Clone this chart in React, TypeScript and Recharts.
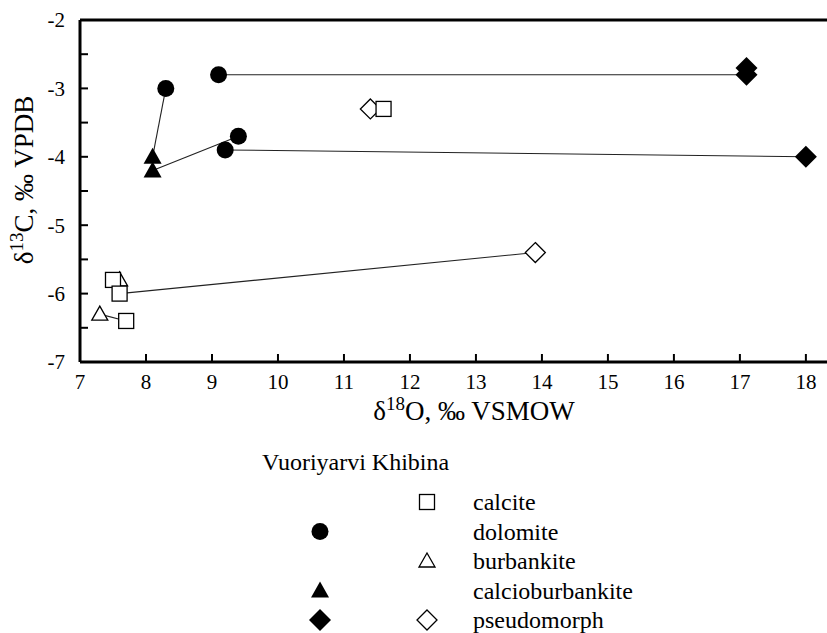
import React from 'react';
import { ScatterChart, Scatter, XAxis, YAxis, ReferenceLine } from 'recharts';

const FONT = "'Times New Roman', Times, 'Liberation Serif', Tinos, 'DejaVu Serif', 'Noto Serif', serif";

// δ18O (x), δ13C (y) values
const calcite = [
  { x: 11.6, y: -3.3 },
  { x: 7.5, y: -5.8 },
  { x: 7.6, y: -6.0 },
  { x: 7.7, y: -6.4 },
];
const dolomite = [
  { x: 8.3, y: -3.0 },
  { x: 9.1, y: -2.8 },
  { x: 9.4, y: -3.7 },
  { x: 9.2, y: -3.9 },
];
const burbankite = [
  { x: 7.6, y: -5.8 },
  { x: 7.3, y: -6.3 },
];
const calcioburbankite = [
  { x: 8.1, y: -4.0 },
  { x: 8.1, y: -4.2 },
];
const pseudomorphVuoriyarvi = [
  { x: 17.1, y: -2.7 },
  { x: 17.1, y: -2.8 },
  { x: 18.0, y: -4.0 },
];
const pseudomorphKhibina = [
  { x: 11.4, y: -3.3 },
  { x: 13.9, y: -5.4 },
];

// pairs joined by thin tie lines
const tieLines = [
  [dolomite[0], calcioburbankite[0]],
  [calcioburbankite[1], dolomite[2]],
  [dolomite[3], pseudomorphVuoriyarvi[2]],
  [dolomite[1], pseudomorphVuoriyarvi[1]],
  [calcite[2], pseudomorphKhibina[1]],
  [burbankite[1], calcite[3]],
];

const xTicks = [7, 8, 9, 10, 11, 12, 13, 14, 15, 16, 17, 18];
const yTicks = [-7, -6.5, -6, -5.5, -5, -4.5, -4, -3.5, -3, -2.5, -2];

const legendRows = [
  { label: 'calcite', vuoriyarvi: null, khibina: 'openSquare' },
  { label: 'dolomite', vuoriyarvi: 'filledCircle', khibina: null },
  { label: 'burbankite', vuoriyarvi: null, khibina: 'openTriangle' },
  { label: 'calcioburbankite', vuoriyarvi: 'filledTriangle', khibina: null },
  { label: 'pseudomorph', vuoriyarvi: 'filledDiamond', khibina: 'openDiamond' },
];

type Kind = 'openSquare' | 'filledCircle' | 'openTriangle' | 'filledTriangle' | 'filledDiamond' | 'openDiamond';

const Marker: React.FC<{ kind: Kind; cx: number; cy: number }> = ({ kind, cx, cy }) => {
  switch (kind) {
    case 'openSquare':
      return <rect x={cx - 7.5} y={cy - 7.5} width={15} height={15} fill="#fff" stroke="#000" strokeWidth={1.3} />;
    case 'filledCircle':
      return <circle cx={cx} cy={cy} r={8.5} fill="#000" />;
    case 'openTriangle':
      return (
        <polygon
          points={`${cx},${cy - 8} ${cx + 8},${cy + 6} ${cx - 8},${cy + 6}`}
          fill="#fff"
          stroke="#000"
          strokeWidth={1.3}
        />
      );
    case 'filledTriangle':
      return <polygon points={`${cx},${cy - 9} ${cx + 9},${cy + 7} ${cx - 9},${cy + 7}`} fill="#000" />;
    case 'filledDiamond':
      return <polygon points={`${cx},${cy - 11} ${cx + 11},${cy} ${cx},${cy + 11} ${cx - 11},${cy}`} fill="#000" />;
    case 'openDiamond':
      return (
        <polygon
          points={`${cx},${cy - 10} ${cx + 10},${cy} ${cx},${cy + 10} ${cx - 10},${cy}`}
          fill="#fff"
          stroke="#000"
          strokeWidth={1.3}
        />
      );
    default:
      return null;
  }
};

const shapeOf = (kind: Kind) => (props: any) => <Marker kind={kind} cx={props.cx} cy={props.cy} />;
const noShape = () => <g />;

const tickStyle = { fontSize: 21, fill: '#000', fontFamily: FONT };

export default function App() {
  return (
    <div
      style={{
        position: 'absolute',
        left: 0,
        top: 0,
        width: 827,
        height: 633,
        background: '#fff',
        fontFamily: FONT,
      }}
    >
      <ScatterChart width={827} height={633} margin={{ top: 20, right: 0, bottom: 211, left: 0 }}>
        <XAxis
          type="number"
          dataKey="x"
          domain={[7, 18.32]}
          ticks={xTicks}
          interval={0}
          allowDataOverflow
          height={60}
          tickSize={-8}
          tickMargin={20}
          tick={tickStyle}
          axisLine={{ stroke: '#000', strokeWidth: 3 }}
          tickLine={{ stroke: '#000', strokeWidth: 2 }}
        />
        <YAxis
          type="number"
          dataKey="y"
          domain={[-7, -2]}
          ticks={yTicks}
          interval={0}
          allowDataOverflow
          width={80}
          tickSize={-8}
          tickMargin={23}
          tick={tickStyle}
          tickFormatter={(v: number) => (Number.isInteger(v) ? String(v) : '')}
          axisLine={{ stroke: '#000', strokeWidth: 3 }}
          tickLine={{ stroke: '#000', strokeWidth: 2 }}
        />
        <ReferenceLine y={-2} stroke="#000" strokeWidth={3} />
        {tieLines.map((pair, i) => (
          <Scatter
            key={`tie-${i}`}
            data={pair}
            fill="none"
            line={{ stroke: '#222', strokeWidth: 1.1 }}
            shape={noShape}
            isAnimationActive={false}
          />
        ))}
        <Scatter name="pseudomorph Khibina" data={pseudomorphKhibina} shape={shapeOf('openDiamond')} isAnimationActive={false} />
        <Scatter name="burbankite" data={burbankite} shape={shapeOf('openTriangle')} isAnimationActive={false} />
        <Scatter name="calcite" data={calcite} shape={shapeOf('openSquare')} isAnimationActive={false} />
        <Scatter name="calcioburbankite" data={calcioburbankite} shape={shapeOf('filledTriangle')} isAnimationActive={false} />
        <Scatter name="dolomite" data={dolomite} shape={shapeOf('filledCircle')} isAnimationActive={false} />
        <Scatter
          name="pseudomorph Vuoriyarvi"
          data={pseudomorphVuoriyarvi}
          shape={shapeOf('filledDiamond')}
          isAnimationActive={false}
        />
      </ScatterChart>

      {/* axis titles and the two-column legend */}
      <svg
        width={827}
        height={633}
        fontFamily={FONT}
        style={{ position: 'absolute', left: 0, top: 0, pointerEvents: 'none' }}
      >
        <text x={474} y={420} textAnchor="middle" fontSize={27} fill="#000" fontFamily={FONT}>
          δ<tspan fontSize={19} dy={-10}>18</tspan>
          <tspan dy={10}>O, ‰ VSMOW</tspan>
        </text>
        <text
          transform="translate(33,180) rotate(-90)"
          textAnchor="middle"
          fontSize={27}
          fill="#000"
          fontFamily={FONT}
        >
          δ<tspan fontSize={19} dy={-10}>13</tspan>
          <tspan dy={10}>C, ‰ VPDB</tspan>
        </text>

        <text x={262} y={462} fontSize={24} fill="#000" dominantBaseline="central" fontFamily={FONT}>
          Vuoriyarvi Khibina
        </text>
        {legendRows.map((row, i) => {
          const cy = 502 + i * 29.5;
          return (
            <g key={row.label}>
              {row.vuoriyarvi ? <Marker kind={row.vuoriyarvi as Kind} cx={320} cy={cy} /> : null}
              {row.khibina ? <Marker kind={row.khibina as Kind} cx={427} cy={cy} /> : null}
              <text x={473} y={cy} fontSize={24} fill="#000" dominantBaseline="central" fontFamily={FONT}>
                {row.label}
              </text>
            </g>
          );
        })}
      </svg>
    </div>
  );
}
